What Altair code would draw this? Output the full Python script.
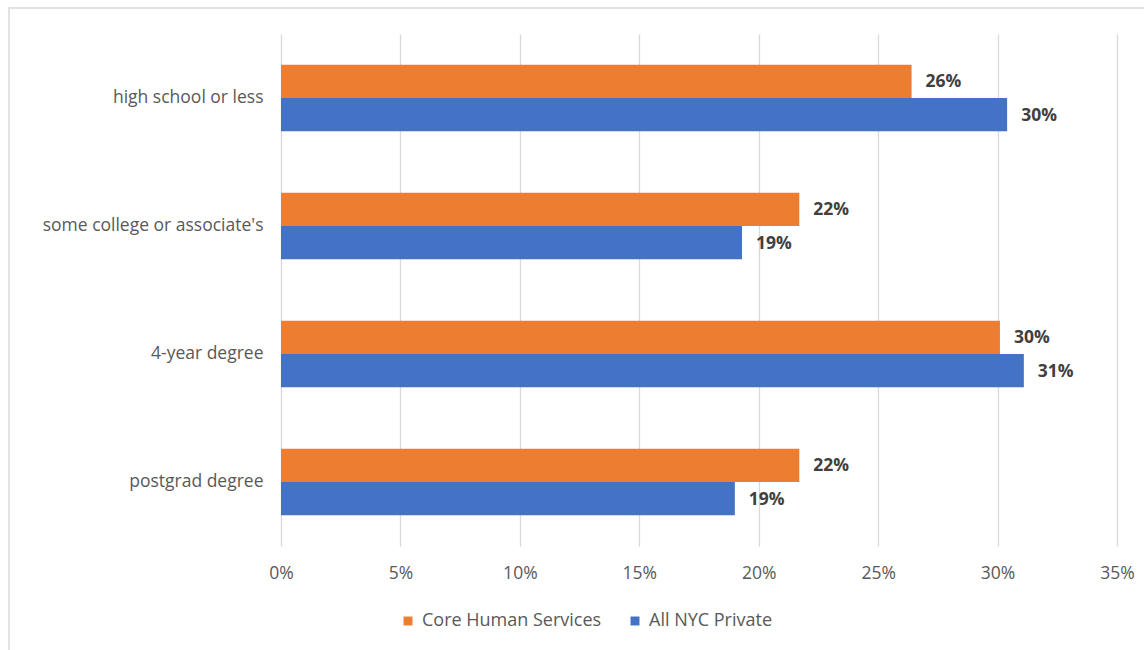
import altair as alt
import pandas as pd

categories = ["high school or less", "some college or associate's", "4-year degree", "postgrad degree"]
series = ["Core Human Services", "All NYC Private"]
core_values = [0.264, 0.217, 0.301, 0.217]
nyc_values = [0.304, 0.193, 0.311, 0.190]
colors = ["#ED7D31", "#4472C4"]
x_ticks = [0, 0.05, 0.10, 0.15, 0.20, 0.25, 0.30, 0.35]

rows = []
for c, a, b in zip(categories, core_values, nyc_values):
    rows.append({"category": c, "series": series[0], "value": a})
    rows.append({"category": c, "series": series[1], "value": b})
df = pd.DataFrame(rows)

FONT = "Open Sans"

base = alt.Chart(df).encode(
    y=alt.Y("category:N", sort=categories, title=None,
            scale=alt.Scale(paddingInner=0.48, paddingOuter=0.24),
            axis=alt.Axis(labelFontSize=17.5, labelColor="#595959", labelFont=FONT,
                          ticks=False, domain=False, labelPadding=18, grid=False,
                          labelLimit=0)),
    yOffset=alt.YOffset("series:N", sort=series),
    x=alt.X("value:Q", title=None,
            scale=alt.Scale(domain=[0, 0.35], nice=False),
            axis=alt.Axis(values=x_ticks, format=".0%", labelFontSize=17.5, labelColor="#595959",
                          labelFont=FONT, ticks=False, domain=False, labelPadding=18,
                          labelFlush=False,
                          grid=True, gridColor="#D9D9D9", gridWidth=1.3)),
)

bars = base.mark_bar(size=33.3).encode(
    color=alt.Color("series:N", sort=series,
                    scale=alt.Scale(domain=series, range=colors),
                    legend=alt.Legend(title=None, orient="none", legendX=118, legendY=578,
                                      direction="horizontal", symbolType="square",
                                      symbolSize=80, symbolStrokeWidth=0,
                                      labelFontSize=18, labelColor="#595959", labelFont=FONT,
                                      columnPadding=24, labelOffset=5, labelLimit=0))
)

labels = base.mark_text(align="left", baseline="middle", dx=14, dy=1, fontSize=17.5,
                        fontWeight="bold", color="#404040", font=FONT).encode(
    text=alt.Text("value:Q", format=".0%")
)

border = alt.Chart(pd.DataFrame({"a": [0]})).mark_rect(
    fill=None, stroke="#D9D9D9", strokeWidth=1.5, clip=False
).encode(
    x=alt.value(-272), x2=alt.value(900), y=alt.value(-26), y2=alt.value(700)
)

chart = alt.layer(border, bars, labels).properties(
    width=836, height=512,
    autosize=alt.AutoSizeParams(type="none"),
    padding={"left": 281, "top": 34, "right": 27, "bottom": 104},
    background="white",
).configure_view(stroke=None)

chart.save("out.html", embed_options={"renderer": "svg", "actions": False})
